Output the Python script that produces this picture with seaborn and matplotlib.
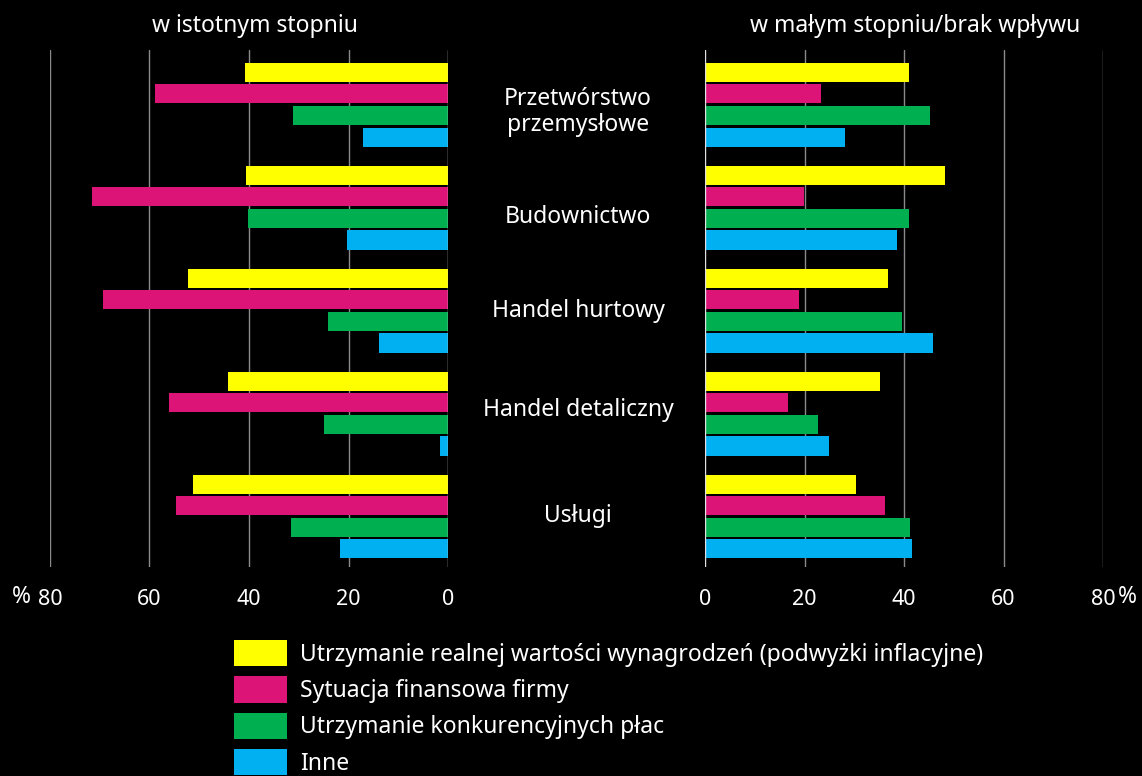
import pandas as pd
import matplotlib.pyplot as plt
import seaborn as sns
from matplotlib.patches import Patch

# dane (%)
sektory = ["Przetwórstwo\nprzemysłowe", "Budownictwo", "Handel hurtowy",
           "Handel detaliczny", "Usługi"]
czynniki = ["Utrzymanie realnej wartości wynagrodzeń (podwyżki inflacyjne)",
            "Sytuacja finansowa firmy",
            "Utrzymanie konkurencyjnych płac",
            "Inne"]
kolory = ["#FFFF00", "#DD1477", "#00B050", "#00B0F0"]

# w istotnym stopniu
istotny_realna = [40.8, 40.6, 52.2, 44.2, 51.2]
istotny_finanse = [58.8, 71.5, 69.3, 56.0, 54.6]
istotny_konkur = [31.1, 40.2, 24.1, 24.9, 31.5]
istotny_inne = [17.1, 20.3, 13.9, 1.6, 21.7]

# w małym stopniu / brak wpływu
maly_realna = [41.0, 48.2, 36.7, 35.1, 30.3]
maly_finanse = [23.3, 19.9, 18.9, 16.7, 36.1]
maly_konkur = [45.2, 41.0, 39.6, 22.7, 41.2]
maly_inne = [28.1, 38.6, 45.8, 24.9, 41.6]

ticks = [0, 20, 40, 60, 80]


def do_tabeli(serie):
    rows = []
    for czynnik, wartosci in zip(czynniki, serie):
        for sektor, w in zip(sektory, wartosci):
            rows.append({"sektor": sektor, "czynnik": czynnik, "wartosc": w})
    return pd.DataFrame(rows)


df_lewy = do_tabeli([istotny_realna, istotny_finanse, istotny_konkur, istotny_inne])
df_prawy = do_tabeli([maly_realna, maly_finanse, maly_konkur, maly_inne])

sns.set_theme(style="dark")
plt.rcParams['font.family'] = ['Noto Sans', 'DejaVu Sans']

FS = 16.5
W, H = 1142, 776
fig = plt.figure(figsize=(W / 100, H / 100), dpi=100, facecolor="black")

ax_l = fig.add_axes([50 / W, 1 - 567 / H, 398 / W, 517 / H])
ax_r = fig.add_axes([705 / W, 1 - 567 / H, 398 / W, 517 / H])

for ax, df in [(ax_l, df_lewy), (ax_r, df_prawy)]:
    ax.set_facecolor("black")
    for x in ticks[1:]:
        ax.axvline(x, color="#8a8a8a", linewidth=1, zorder=0)
    sns.barplot(data=df, x="wartosc", y="sektor", hue="czynnik",
                hue_order=czynniki, order=sektory, palette=kolory,
                saturation=1, orient="h", width=0.84, gap=0.12,
                linewidth=0, legend=False, ax=ax, zorder=2)
    ax.axvline(0, color="#e0e0e0", linewidth=1, zorder=3)
    ax.set_ylim(4.49, -0.53)
    ax.set_xticks(ticks)
    ax.set_xticklabels([str(t) for t in ticks])
    ax.set_yticks([])
    ax.set_xlabel("")
    ax.set_ylabel("")
    ax.grid(False)
    for s in ax.spines.values():
        s.set_visible(False)
    ax.tick_params(axis="x", length=0, pad=16, labelsize=15.5, colors="white")

ax_l.set_xlim(80, 0)
ax_r.set_xlim(0, 80)

# nazwy sektorów pośrodku
pozycje_y = [112, 217, 311, 410, 516]
for sektor, y in zip(sektory, pozycje_y):
    fig.text(578 / W, 1 - y / H, sektor, ha="center", va="center",
             color="white", fontsize=FS, linespacing=1.15)

fig.text(255 / W, 1 - 26 / H, "w istotnym stopniu", ha="center", va="center",
         color="white", fontsize=FS)
fig.text(915 / W, 1 - 26 / H, "w małym stopniu/brak wpływu", ha="center",
         va="center", color="white", fontsize=FS)
fig.text(21 / W, 1 - 597 / H, "%", ha="center", va="center", color="white",
         fontsize=FS)
fig.text(1127 / W, 1 - 597 / H, "%", ha="center", va="center", color="white",
         fontsize=FS)

uchwyty = [Patch(facecolor=k, edgecolor="none") for k in kolory]
leg = fig.legend(uchwyty, czynniki, loc="upper left",
                 bbox_to_anchor=(234 / W, 1 - 640 / H), frameon=False,
                 fontsize=FS, handlelength=2.32, handleheight=1.38,
                 labelspacing=0.42, handletextpad=0.55, borderpad=0,
                 borderaxespad=0)
for t in leg.get_texts():
    t.set_color("white")

fig.savefig("out.png", dpi=100, facecolor="black")
